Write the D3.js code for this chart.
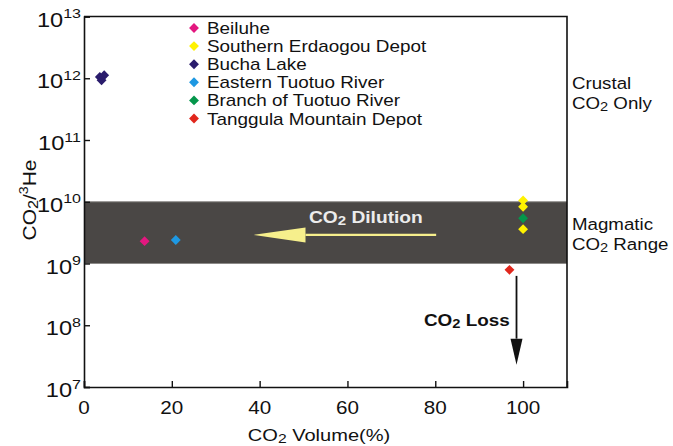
<!DOCTYPE html>
<html>
<head>
<meta charset="utf-8">
<script src="https://cdn.jsdelivr.net/npm/d3@7"></script>
<style>
  body { margin: 0; background: #fff; }
  text { font-family: "Liberation Sans", Arial, Helvetica, sans-serif; }
</style>
</head>
<body>
<svg id="chart" width="673" height="446"></svg>
<script>
// Sampling sites, marker colours and measured values (CO2 vol % vs CO2/3He)
const sites = ["Beiluhe", "Southern Erdaogou Depot", "Bucha Lake",
               "Eastern Tuotuo River", "Branch of Tuotuo River", "Tanggula Mountain Depot"];
const siteColors = ["#e3177f", "#fff200", "#2a1c6c", "#1e98e2", "#04964b", "#e1261c"];
const co2Volume = [[13.8], [100, 100, 100], [3.6, 4.6, 4.0], [20.9], [100], [96.9]];
const co2He3 = [[2.3e9], [1.05e10, 8.3e9, 3.6e9], [1.05e12, 1.12e12, 0.93e12], [2.4e9], [5.4e9], [7.9e8]];

const xTicks = [0, 20, 40, 60, 80, 100];
const yExponents = [7, 8, 9, 10, 11, 12, 13];
const magmaticRange = [1e9, 1e10];

// Trend arrows in data coordinates: [x, y] start -> end
const dilutionArrow = [[80.2, 2.9e9], [38.6, 2.9e9]];
const lossArrow = [[98.5, 6.3e8], [98.5, 2.3e7]];

const SX = 1.18; // horizontal text stretch

const svg = d3.select("#chart");
const x = d3.scaleLinear().domain([0, 110]).range([84, 567]);
const y = d3.scaleLog().domain([1e7, 1e13]).range([387, 16.5]);

// Text helper: parts are [string, kind] with kind in {"", "sub", "sup"}
function label(g, px, py, parts, opt) {
  const t = g.append("text")
    .attr("transform", `translate(${px},${py}) ${opt.rotate ? "rotate(" + opt.rotate + ")" : ""} scale(${opt.sx ?? SX},1)`)
    .attr("font-size", opt.size)
    .attr("font-weight", opt.bold ? "bold" : "normal")
    .attr("fill", opt.fill || "#111")
    .attr("text-anchor", opt.anchor || "start");
  let shift = 0;
  parts.forEach(([s, kind]) => {
    const ts = t.append("tspan").text(s);
    let target = 0, fs = opt.size;
    if (kind === "sub") { target = opt.size * 0.12; fs = opt.size * 0.78; }
    if (kind === "sup") { target = -opt.size * 0.42; fs = opt.size * 0.68; }
    ts.attr("font-size", fs).attr("dy", target - shift);
    shift = target;
  });
  return t;
}

// Magmatic CO2 range band
svg.append("rect")
  .attr("x", x(0)).attr("width", x(110) - x(0))
  .attr("y", y(magmaticRange[1])).attr("height", y(magmaticRange[0]) - y(magmaticRange[1]))
  .attr("fill", "#4a4745");
svg.selectAll("line.bandEdge").data(magmaticRange).enter().append("line")
  .attr("x1", x(0)).attr("x2", x(110))
  .attr("y1", d => y(d)).attr("y2", d => y(d))
  .attr("stroke", "#8c8a88").attr("stroke-width", 1);

// Axes with inward ticks
const xAxis = d3.axisBottom(x).tickValues(xTicks).tickSize(-6).tickFormat("");
const gx = svg.append("g").attr("transform", `translate(0,${y(1e7)})`).call(xAxis);
const yAxis = d3.axisLeft(y).tickValues(yExponents.map(e => Math.pow(10, e))).tickSize(-6).tickFormat("");
const gy = svg.append("g").attr("transform", `translate(${x(0)},0)`).call(yAxis);
[gx, gy].forEach(g => {
  g.select(".domain").attr("stroke", "#111").attr("stroke-width", 1.6);
  g.selectAll(".tick line").attr("stroke", "#111").attr("stroke-width", 1.4);
});

// Frame top and right
svg.append("path")
  .attr("d", `M${x(0)},${y(1e13)}H${x(110)}V${y(1e7)}`)
  .attr("fill", "none").attr("stroke", "#111").attr("stroke-width", 1.6);

// Tick labels
xTicks.forEach(v => label(svg, x(v), 414, [[String(v), ""]], { size: 17.5, anchor: "middle" }));
yExponents.forEach(e => label(svg, 81, y(Math.pow(10, e)) + 10, [["10", ""], [String(e), "sup"]], { size: 20, anchor: "end" }));

// Axis titles
label(svg, 319, 441, [["CO", ""], ["2", "sub"], [" Volume(%)", ""]], { size: 17, anchor: "middle" });
label(svg, 36, 200, [["CO", ""], ["2", "sub"], ["/", ""], ["3", "sup"], ["He", ""]], { size: 19, anchor: "middle", rotate: -90, sx: 1.1 });

// Right-side region labels
const sideOpt = { size: 17, sx: 1.1 };
label(svg, 572, 89, [["Crustal", ""]], sideOpt);
label(svg, 572, 109, [["CO", ""], ["2", "sub"], [" Only", ""]], sideOpt);
label(svg, 572, 230, [["Magmatic", ""]], sideOpt);
label(svg, 572, 250, [["CO", ""], ["2", "sub"], [" Range", ""]], sideOpt);

// Dilution arrow (pale yellow) and label
const yellow = "#f6ef8c";
const [dA, dB] = dilutionArrow;
const headLen = 52;
svg.append("line")
  .attr("x1", x(dA[0])).attr("y1", y(dA[1]))
  .attr("x2", x(dB[0]) + headLen).attr("y2", y(dB[1]))
  .attr("stroke", yellow).attr("stroke-width", 2.2);
svg.append("path")
  .attr("d", `M${x(dB[0])},${y(dB[1])}L${x(dB[0]) + headLen},${y(dB[1]) - 7.5}V${y(dB[1]) + 7.5}Z`)
  .attr("fill", yellow);
label(svg, 309, 223, [["CO", ""], ["2", "sub"], [" Dilution", ""]], { size: 16, bold: true, fill: "#ececec", sx: 1.2 });

// Loss arrow (black) and label
const [lA, lB] = lossArrow;
const lHead = 26;
svg.append("line")
  .attr("x1", x(lA[0])).attr("y1", y(lA[1]))
  .attr("x2", x(lB[0])).attr("y2", y(lB[1]) - lHead)
  .attr("stroke", "#111").attr("stroke-width", 1.8);
svg.append("path")
  .attr("d", `M${x(lB[0])},${y(lB[1])}L${x(lB[0]) - 6},${y(lB[1]) - lHead}H${x(lB[0]) + 6}Z`)
  .attr("fill", "#111");
label(svg, 424, 326, [["CO", ""], ["2", "sub"], [" Loss", ""]], { size: 16, bold: true, fill: "#111", sx: 1.18 });

// Diamond markers
const diamond = d3.symbol().type(d3.symbolDiamond2).size(62);
const points = [];
sites.forEach((s, i) => co2Volume[i].forEach((v, j) => points.push({ i, v, r: co2He3[i][j] })));
svg.append("g").selectAll("path").data(points).enter().append("path")
  .attr("transform", d => `translate(${x(d.v)},${y(d.r)})`)
  .attr("d", diamond)
  .attr("fill", d => siteColors[d.i]);

// Legend
const lg = svg.append("g");
sites.forEach((s, i) => {
  const ly = 28 + i * 18.1;
  lg.append("path").attr("transform", `translate(194,${ly})`).attr("d", diamond).attr("fill", siteColors[i]);
  label(lg, 207, ly + 6, [[s, ""]], { size: 16 });
});
</script>
</body>
</html>
